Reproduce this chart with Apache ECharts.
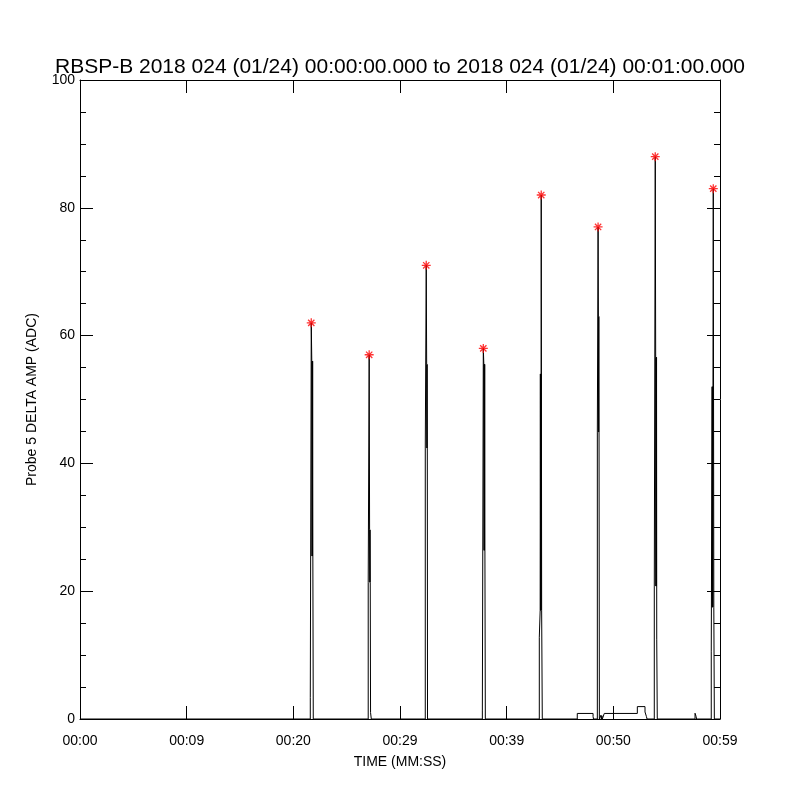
<!DOCTYPE html>
<html>
<head>
<meta charset="utf-8">
<script src="https://cdn.jsdelivr.net/npm/echarts@6/dist/echarts.min.js"></script>
<style>
  html, body { margin: 0; padding: 0; background: #fff; }
  #chart { width: 800px; height: 800px; }
</style>
</head>
<body>
<div id="chart"></div>
<script>
// time in seconds after 00:00:00, amplitude in ADC (step line, value holds from its time on)
const baseline = [
  [0, 0], [21.59, 0]
]
const spike1 = [[21.59, 3.4], [21.68, 62], [21.73, 56], [21.75, 25.5], [21.77, 56], [21.79, 25.5], [21.81, 56], [21.83, 25.5], [21.87, 0]]
const spike2 = [[27.02, 21.4], [27.11, 57], [27.15, 29.6], [27.17, 21.4], [27.19, 29.6], [27.21, 21.4], [27.24, 1], [27.31, 0]]
const spike3 = [[32.37, 42.4], [32.46, 71], [32.50, 55.5], [32.52, 42.4], [32.54, 55.5], [32.56, 42.4], [32.58, 0]]
const spike4 = [[37.72, 1.4], [37.81, 58], [37.86, 55.5], [37.88, 26.4], [37.90, 55.5], [37.92, 26.4], [37.94, 55.5], [37.96, 26.4], [38.00, 0]]
const spike5 = [[43.06, 12.8], [43.14, 17], [43.16, 54], [43.18, 17], [43.20, 54], [43.22, 17], [43.24, 82], [43.28, 17], [43.34, 0]]
const lowBox1 = [[46.62, 0.87], [48.10, 0.4], [48.14, 0]]
const spike6 = [[48.50, 44.9], [48.57, 77], [48.60, 63], [48.62, 44.9], [48.64, 63], [48.66, 44.9], [48.69, 0]]
const blips = [[48.84, 0.6], [48.88, 0], [48.93, 0.5], [48.97, 0]]
const lowBox2 = [[49.15, 0.87], [52.25, 1.94], [52.97, 1.1], [53.10, 0.4], [53.16, 0]]
const spike7 = [[53.84, 20.8], [53.93, 88], [53.97, 56.6], [53.99, 20.8], [54.01, 56.6], [54.03, 20.8], [54.05, 56.6], [54.07, 12.5], [54.12, 0]]
const blip2 = [[57.66, 0.9], [57.76, 0.4], [57.80, 0]]
const spike8 = [[59.18, 10.5], [59.26, 52], [59.28, 17.5], [59.30, 52], [59.32, 17.5], [59.34, 52], [59.37, 83], [59.42, 17.5], [59.47, 0], [60, 0]]

// peak markers (red asterisks)
const peaks = [[21.68, 62], [27.11, 57], [32.46, 71], [37.81, 58], [43.24, 82], [48.57, 77], [53.93, 88], [59.37, 83]]

const xTickLabels = ['00:00', '00:09', '00:20', '00:29', '00:39', '00:50', '00:59']
const titleText = 'RBSP-B 2018 024 (01/24) 00:00:00.000 to 2018 024 (01/24) 00:01:00.000'

const trace = [].concat(baseline, spike1, spike2, spike3, spike4, spike5, lowBox1,
  spike6, blips, lowBox2, spike7, blip2, spike8)

const font = 'Liberation Sans'
const axisCommon = {
  axisLine: { show: true, onZero: false, lineStyle: { color: '#000', width: 1 } },
  splitLine: { show: false }
}

const chart = echarts.init(document.getElementById('chart'), null, { renderer: 'canvas' })

chart.setOption({
  animation: false,
  backgroundColor: '#fff',
  title: {
    text: titleText,
    left: 'center',
    top: 52,
    textStyle: { fontFamily: font, fontSize: 21, fontWeight: 'normal', color: '#000' }
  },
  grid: { left: 80, right: 80, top: 80, bottom: 81 },
  xAxis: [
    {
      ...axisCommon,
      type: 'value', min: 0, max: 60, interval: 10,
      position: 'bottom',
      name: 'TIME (MM:SS)', nameLocation: 'middle', nameGap: 36,
      nameTextStyle: { fontFamily: font, fontSize: 14, color: '#000' },
      axisTick: { show: true, inside: true, length: 13, lineStyle: { color: '#000' } },
      axisLabel: {
        fontFamily: font, fontSize: 14, color: '#000', margin: 15,
        formatter: v => xTickLabels[Math.round(v / 10)]
      }
    },
    {
      ...axisCommon,
      type: 'value', min: 0, max: 60, interval: 10,
      position: 'top',
      axisTick: { show: true, inside: true, length: 13, lineStyle: { color: '#000' } },
      axisLabel: { show: false }
    }
  ],
  yAxis: [
    {
      ...axisCommon,
      type: 'value', min: 0, max: 100, interval: 20,
      position: 'left',
      name: 'Probe 5 DELTA AMP (ADC)', nameLocation: 'middle', nameGap: 41,
      nameTextStyle: { fontFamily: font, fontSize: 14, color: '#000' },
      axisTick: { show: true, inside: true, length: 13, lineStyle: { color: '#000' } },
      minorTick: { show: true, splitNumber: 4, length: 6, lineStyle: { color: '#000' } },
      axisLabel: { fontFamily: font, fontSize: 14, color: '#000', margin: 5 }
    },
    {
      ...axisCommon,
      type: 'value', min: 0, max: 100, interval: 20,
      position: 'right',
      axisTick: { show: true, inside: true, length: 13, lineStyle: { color: '#000' } },
      minorTick: { show: true, splitNumber: 4, length: 6, lineStyle: { color: '#000' } },
      axisLabel: { show: false }
    }
  ],
  series: [
    {
      type: 'line',
      data: trace,
      step: 'end',
      symbol: 'none',
      lineStyle: { color: '#000', width: 1 },
      z: 2
    },
    {
      type: 'scatter',
      data: peaks,
      symbol: 'path://M0,5L10,5M5,0L5,10M1.5,1.5L8.5,8.5M8.5,1.5L1.5,8.5',
      symbolSize: 9,
      itemStyle: { color: 'rgba(0,0,0,0)', borderColor: '#ff0000', borderWidth: 1.3 },
      z: 3
    }
  ]
})
</script>
</body>
</html>
